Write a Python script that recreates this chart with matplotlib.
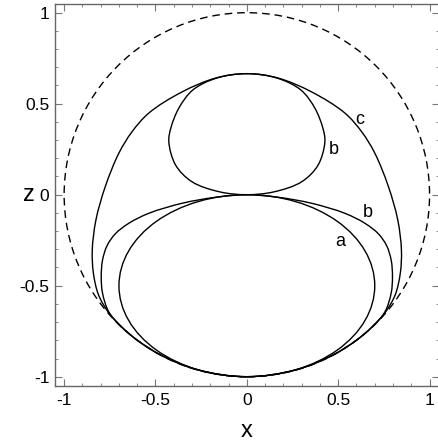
import numpy as np
import matplotlib.pyplot as plt
from matplotlib.path import Path
from matplotlib.patches import PathPatch, Circle, Ellipse
from matplotlib.ticker import MultipleLocator

plt.rcParams['font.family'] = ['Liberation Sans', 'DejaVu Sans']

# right halves (x >= 0), top -> bottom
c_x = [0.0, 0.170, 0.356, 0.536, 0.629, 0.700, 0.775, 0.826, 0.846, 0.840, 0.812, 0.755, 0.688, 0.600, 0.470, 0.270, 0.0]
c_z = [0.665, 0.641, 0.564, 0.449, 0.345, 0.229, 0.044, -0.139, -0.304, -0.430, -0.550, -0.650, -0.725, -0.800, -0.882, -0.962, -1.0]

b_up_x = [0.0, 0.165, 0.296, 0.372, 0.416, 0.427, 0.390, 0.300, 0.150, 0.0]
b_up_z = [0.665, 0.641, 0.575, 0.476, 0.366, 0.291, 0.163, 0.071, 0.016, 0.0]

b_lo_x = [0.0, 0.170, 0.354, 0.536, 0.646, 0.720, 0.765, 0.790, 0.797, 0.790, 0.755, 0.686, 0.598, 0.468, 0.270, 0.0]
b_lo_z = [0.0, -0.014, -0.047, -0.102, -0.157, -0.215, -0.280, -0.360, -0.450, -0.540, -0.645, -0.725, -0.800, -0.882, -0.962, -1.0]

# curve a: ellipse (centre, full width, full height)
a_center = (0.0, -0.5)
a_width = 1.40
a_height = 1.0

# dashed reference circle
circ_center = (0.0, 0.0)
circ_r = 1.0


def closed_loop(xr, zr):
    # mirror right half onto the left side
    xr = np.asarray(xr); zr = np.asarray(zr)
    xs = np.concatenate([xr, -xr[-2:0:-1]])
    zs = np.concatenate([zr, zr[-2:0:-1]])
    return np.column_stack([xs, zs])


def smooth_path(pts):
    # closed centripetal Catmull-Rom through the points, as cubic Beziers
    n = len(pts)
    verts = [pts[0]]
    codes = [Path.MOVETO]
    for i in range(n):
        p0, p1, p2, p3 = pts[(i - 1) % n], pts[i], pts[(i + 1) % n], pts[(i + 2) % n]
        d0 = np.linalg.norm(p1 - p0) ** 0.5
        d1 = np.linalg.norm(p2 - p1) ** 0.5
        d2 = np.linalg.norm(p3 - p2) ** 0.5
        t1 = (p1 - p0) / d0 - (p2 - p0) / (d0 + d1) + (p2 - p1) / d1
        t2 = (p2 - p1) / d1 - (p3 - p1) / (d1 + d2) + (p3 - p2) / d2
        verts += [p1 + t1 * d1 / 3, p2 - t2 * d1 / 3, p2]
        codes += [Path.CURVE4] * 3
    return Path(verts, codes)


fig = plt.figure(figsize=(4.39, 4.48), dpi=100)
ax = fig.add_axes([55 / 439, 1 - 385.8 / 448, 383.7 / 439, 382.2 / 448])

lw = 1.0
ax.add_patch(Circle(circ_center, circ_r, fill=False, color='black', lw=lw, linestyle=(0, (5.5, 3.5))))
ax.add_patch(Ellipse(a_center, a_width, a_height, fill=False, color='black', lw=lw))
for xr, zr in [(c_x, c_z), (b_up_x, b_up_z), (b_lo_x, b_lo_z)]:
    ax.add_patch(PathPatch(smooth_path(closed_loop(xr, zr)), fill=False, color='black', lw=lw))

ax.text(0.509, -0.255, 'a', fontsize=13, ha='center', va='center')
ax.text(0.478, 0.246, 'b', fontsize=13, ha='center', va='center')
ax.text(0.664, -0.099, 'b', fontsize=13, ha='center', va='center')
ax.text(0.618, 0.414, 'c', fontsize=13, ha='center', va='center')

ax.set_xlim(-1.05, 1.05)
ax.set_ylim(-1.05, 1.05)
ax.set_xticks([-1, -0.5, 0, 0.5, 1])
ax.set_yticks([-1, -0.5, 0, 0.5, 1])
ax.set_xticklabels(['-1', '-0.5', '0', '0.5', '1'])
ax.set_yticklabels(['-1', '-0.5', '0', '0.5', '1'])
ax.xaxis.set_minor_locator(MultipleLocator(0.1))
ax.yaxis.set_minor_locator(MultipleLocator(0.1))
ax.tick_params(which='both', direction='in', top=True, right=True, color='#777777', labelsize=12.5)
ax.tick_params(axis='x', pad=5)
ax.tick_params(axis='y', pad=4)
ax.tick_params(which='major', length=5, width=0.8)
ax.tick_params(which='minor', length=2.5, width=0.6)
for s in ax.spines.values():
    s.set_color('#666666')
    s.set_linewidth(1.0)

ax.set_xlabel('x', fontsize=17, va='center')
ax.set_ylabel('z', fontsize=17, rotation=0, ha='center', va='center')
ax.xaxis.set_label_coords(0.5, -0.118)
ax.yaxis.set_label_coords(-0.068, 0.5)

fig.savefig('out.png', dpi=100)
